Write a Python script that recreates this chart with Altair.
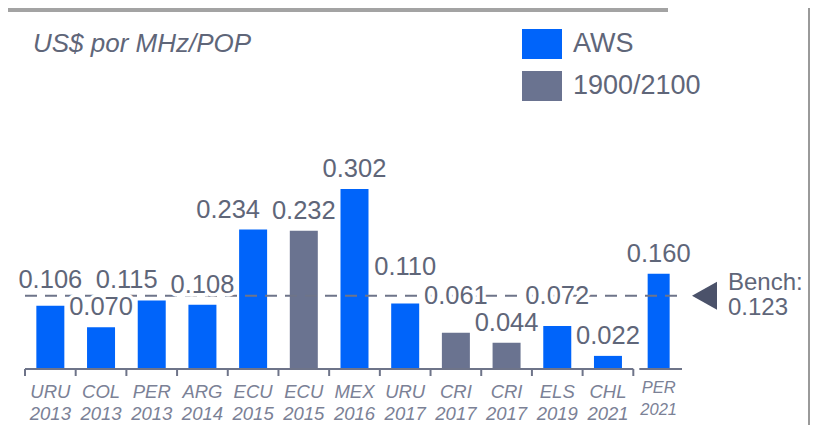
import altair as alt
import pandas as pd

# ---------------- data ----------------
countries = ["URU", "COL", "PER", "ARG", "ECU", "ECU", "MEX", "URU", "CRI", "CRI", "ELS", "CHL", "PER"]
years = ["2013", "2013", "2013", "2014", "2015", "2015", "2016", "2017", "2017", "2017", "2019", "2021", "2021"]
bands = ["AWS", "AWS", "AWS", "AWS", "AWS", "1900/2100", "AWS", "AWS",
         "1900/2100", "1900/2100", "AWS", "AWS", "AWS"]
values = [0.106, 0.070, 0.115, 0.108, 0.234, 0.232, 0.302, 0.110, 0.061, 0.044, 0.072, 0.022, 0.160]
BENCH = 0.123
series = ["AWS", "1900/2100"]
TITLE = "US$ por MHz/POP"

# ---------------- style / layout ----------------
BLUE = "#0064fa"
GRAY = "#6a7390"
TEXT = "#5f6679"
AXIS = "#6e7489"
XLAB = "#7b8196"
FONT = "Liberation Sans"

W, H = 805, 417
BASE_Y = 361            # baseline (view px)
PX_PER_UNIT = 596
X0, X1 = 17, 676        # band range (view px)
BAND = (X1 - X0) / 13
LABEL_GAP_PX = 20
LABEL_LIFT = {0: 6, 7: 16}
LABEL_ON_BENCH = {8, 10}
LABEL_SHIFT_LEFT = {2, 4}
SHIFT_PX = -25

keys = [f"{c} {y} #{i}" for i, (c, y) in enumerate(zip(countries, years))]
rows = []
for i, (k, c, yr, b, v) in enumerate(zip(keys, countries, years, bands, values)):
    if i in LABEL_ON_BENCH:
        ly = BENCH
    else:
        ly = v + (LABEL_GAP_PX + LABEL_LIFT.get(i, 0)) / PX_PER_UNIT
    rows.append(dict(i=i, key=k, country=c, year=yr, band=b, value=v,
                     label=f"{v:.3f}", label_y=ly, shifted=(i in LABEL_SHIFT_LEFT)))
df = pd.DataFrame(rows)

xs = alt.Scale(domain=keys, range=[X0, X1], paddingInner=0, paddingOuter=0)
ys = alt.Scale(domain=[0, 0.3], range=[BASE_Y, BASE_Y - 0.3 * PX_PER_UNIT])
X = alt.X("key:N", scale=xs, axis=None, sort=keys)

base = alt.Chart(df)

bars = base.mark_bar().encode(
    x=X,
    y=alt.Y("value:Q", scale=ys, axis=None),
    color=alt.Color(
        "band:N",
        scale=alt.Scale(domain=series, range=[BLUE, GRAY]),
        legend=alt.Legend(
            title=None, orient="none", legendX=514, legendY=16,
            symbolType="M-1,-0.75H1V0.75H-1Z", symbolSize=1600,
            symbolStrokeWidth=0, symbolOpacity=1,
            labelFontSize=27, labelFont=FONT, labelColor=TEXT,
            labelOffset=11, rowPadding=7, labelLimit=300,
        ),
    ),
    size=alt.condition("datum.i == 12", alt.value(22), alt.value(28)),
)

bench_line = alt.Chart(pd.DataFrame({"b": [BENCH]})).mark_rule(
    color=AXIS, strokeWidth=2, strokeDash=[12, 8]
).encode(y=alt.Y("b:Q", scale=ys), x=alt.value(X0), x2=alt.value(672))


def value_labels(halo):
    props = dict(font=FONT, fontSize=25.5, baseline="middle", align="center")
    if halo:
        props.update(stroke="white", strokeWidth=7, fill="white")
    else:
        props.update(color=TEXT)
    enc = dict(x=X, y=alt.Y("label_y:Q", scale=ys), text="label:N")
    plain = base.transform_filter("!datum.shifted").mark_text(**props).encode(**enc)
    moved = base.transform_filter("datum.shifted").mark_text(dx=SHIFT_PX, **props).encode(**enc)
    return [plain, moved]


ticks = base.mark_rule(color=AXIS, strokeWidth=2).encode(
    x=alt.X("key:N", scale=xs, axis=None, sort=keys, bandPosition=0),
    y=alt.value(BASE_Y), y2=alt.value(BASE_Y + 7))

domain_df = pd.DataFrame({"x": [X0, X0 + 12 * BAND + 6], "x2": [X0 + 12 * BAND, X1 - 2]})
domain = alt.Chart(domain_df).mark_rule(color=AXIS, strokeWidth=2).encode(
    x=alt.X("x:Q", scale=None), x2="x2:Q", y=alt.value(BASE_Y))

main_x = base.transform_filter("datum.i < 12")
last_x = base.transform_filter("datum.i == 12")
xl1 = main_x.mark_text(font=FONT, fontSize=18.5, fontStyle="italic", color=XLAB,
                       baseline="alphabetic").encode(x=X, y=alt.value(390), text="country:N")
xl2 = main_x.mark_text(font=FONT, fontSize=18.5, fontStyle="italic", color=XLAB,
                       baseline="alphabetic").encode(x=X, y=alt.value(412), text="year:N")
xl3 = last_x.mark_text(font=FONT, fontSize=16.5, fontStyle="italic", color=XLAB,
                       baseline="alphabetic").encode(x=X, y=alt.value(385), text="country:N")
xl4 = last_x.mark_text(font=FONT, fontSize=16.5, fontStyle="italic", color=XLAB,
                       baseline="alphabetic").encode(x=X, y=alt.value(407), text="year:N")

title_df = pd.DataFrame({"t": [TITLE]})
title = alt.Chart(title_df).mark_text(font=FONT, fontSize=26, fontStyle="italic", color=TEXT,
                                      align="left", baseline="alphabetic").encode(
    x=alt.value(25), y=alt.value(44), text="t:N")

bench_df = pd.DataFrame({"b": [BENCH], "t1": ["Bench:"], "t2": [f"{BENCH:.3f}"]})
tri = alt.Chart(bench_df).mark_point(
    shape="M-1,0L1,-1.12L1,1.12Z", size=625, filled=True, opacity=1,
    color="#4b526a", strokeWidth=0).encode(x=alt.value(696.5), y=alt.Y("b:Q", scale=ys))
bt1 = alt.Chart(bench_df).mark_text(font=FONT, fontSize=24, color=TEXT, align="left",
                                    baseline="alphabetic", dy=-6).encode(
    x=alt.value(720), y=alt.Y("b:Q", scale=ys), text="t1:N")
bt2 = alt.Chart(bench_df).mark_text(font=FONT, fontSize=24, color=TEXT, align="left",
                                    baseline="alphabetic", dy=19).encode(
    x=alt.value(720), y=alt.Y("b:Q", scale=ys), text="t2:N")

top_line = alt.Chart(title_df).mark_rule(color="#a3a3a3", strokeWidth=5).encode(
    x=alt.value(0), x2=alt.value(660), y=alt.value(1.5))
right_line = alt.Chart(title_df).mark_rule(color="#9a9a9a", strokeWidth=2).encode(
    x=alt.value(801), y=alt.value(0), y2=alt.value(H))

chart = alt.layer(
    bars, bench_line, *value_labels(True), *value_labels(False), ticks, domain,
    xl1, xl2, xl3, xl4, title, tri, bt1, bt2, top_line, right_line
).properties(
    width=W, height=H, padding=0, autosize=alt.AutoSizeParams(type="none"),
    background="white"
).configure_view(stroke=None)

chart.save("out.html", embed_options={"renderer": "svg", "actions": False})
